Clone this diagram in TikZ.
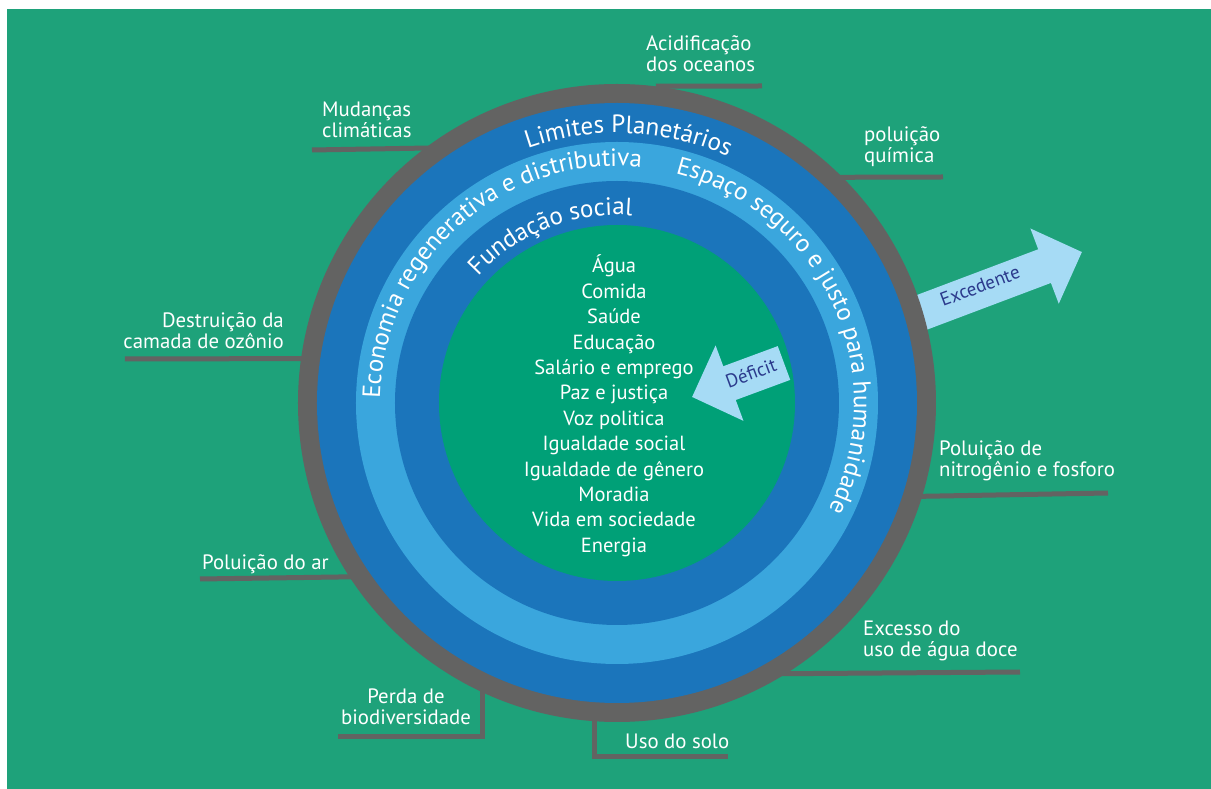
\documentclass[tikz,border=0pt]{standalone}
\usepackage{fontspec}
\setmainfont{PT Sans}
\usetikzlibrary{arrows.meta,decorations.text}

\definecolor{bggreen}{HTML}{1EA27A}
\definecolor{innergreen}{HTML}{00A077}
\definecolor{ringgray}{HTML}{636362}
\definecolor{darkblue}{HTML}{1B75BB}
\definecolor{lightblue}{HTML}{3AA6DD}
\definecolor{arrowblue}{HTML}{A6DBF5}
\definecolor{arrownavy}{HTML}{2B3A8C}

\newcommand\ringfont{\fontsize{25}{30}\selectfont\color{white}}

\begin{document}
\begin{tikzpicture}
		[x=1pt,y=1pt,line cap=butt,
		%Styles
		leader line/.style={line width=5pt,draw=ringgray,shorten <=-8pt},
		label text/.style={text=white,font=\fontsize{20.8}{21.5}\selectfont,inner sep=0pt},
		list text/.style={text=white,font=\fontsize{20.5}{25.4}\selectfont,inner sep=0pt,align=center},
		flow arrow/.style={line width=36pt,draw=arrowblue,-{Triangle[length=40pt,width=78pt]}},
		arrow text/.style={text=arrownavy,font=\fontsize{19}{20}\selectfont,inner sep=0pt},
		ring text/.style={decorate,decoration={text along path,text align=center,text={|\ringfont|#1}}}
		]
		
		%The graphic
		\useasboundingbox (-617,-386) rectangle (594,403);
		\fill[bggreen] (-610,-386) rectangle (594,394);
		
		%surplus arrow goes under the rings
		\coordinate (exc tail) at (282,82);
		\coordinate (exc tip) at (465,151);
		\draw[flow arrow] (exc tail) -- (exc tip);
		
		%outer boundary
		\node[circle,fill=ringgray,minimum size=638pt,inner sep=0pt] (boundary) at (0,0) {};
		
		%leader line ends
		\coordinate (acid end) at (145,317);
		\coordinate (chem end) at (326,226);
		\coordinate (clim end) at (-305,253);
		\coordinate (ozone end) at (-492,44);
		\coordinate (air end) at (-417,-176);
		\coordinate (bio end) at (-279,-334);
		\coordinate (soil end) at (111,-354);
		\coordinate (water end) at (403,-269);
		\coordinate (nitro end) at (491,-90);
		
		\draw[leader line,shorten <=0pt] (boundary.83.7) -- (acid end);
		\draw[leader line] (boundary.45.1) -- (chem end);
		\draw[leader line] (boundary.127.5) -- (clim end);
		\draw[leader line] (boundary.172.1) -- (ozone end);
		\draw[leader line] (boundary.213.5) -- (air end);
		\draw[leader line] (boundary.245.6) |- (bio end);
		\draw[leader line] (boundary.266.05) |- (soil end);
		\draw[leader line] (boundary.302.5) -- (water end);
		\draw[leader line] (boundary.343.6) -- (nitro end);
		
		%rings
		\fill[darkblue] (0,0) circle (300);
		\fill[lightblue] (0,0) circle (261);
		\fill[darkblue] (0,0) circle (222);
		\fill[innergreen] (0,0) circle (178);
		
		%ring titles
		\path[ring text={Limites Planetários}] (150:270) arc[start angle=150,end angle=25,radius=270];
		\path[ring text={Economia regenerativa e distributiva}] (221.5:237) arc[start angle=221.5,end angle=41.5,radius=237];
		\path[ring text={Espaço seguro e justo para humanidade}] (100:237) arc[start angle=100,end angle=-51,radius=237];
		\path[ring text={Fundação social}] (160:188) arc[start angle=160,end angle=63,radius=188];
		
		%deficit arrow
		\coordinate (def tail) at (167,40);
		\coordinate (def tip) at (75,6);
		\draw[flow arrow] (def tail) -- (def tip);
		\node[arrow text,rotate=20.3] (deficit) at (134,30) {Déficit};
		\node[arrow text,rotate=20.6] (surplus) at (363,117) {Excedente};
		
		%social foundation (base = last line)
		\node[list text,anchor=base] (needs) at (-3,-149.4)
			{Água\\Comida\\Saúde\\Educação\\Salário e emprego\\Paz e justiça\\Voz politica\\Igualdade social\\Igualdade de gênero\\Moradia\\Vida em sociedade\\Energia};
		
		%planetary boundaries
		\node[label text,align=left,anchor=base west] (acid) at (29,331) {Acidificação\\dos oceanos};
		\node[label text,align=left,anchor=base west] (chem) at (247,240) {poluição\\química};
		\node[label text,align=left,anchor=base west] (clim) at (-295,265) {Mudanças\\climáticas};
		\node[label text,align=right,anchor=base east] (ozone) at (-333,54) {Destruição da\\camada de ozônio};
		\node[label text,anchor=base west] (air) at (-415,-167) {Poluição do ar};
		\node[label text,align=center,anchor=base] (bio) at (-211,-322) {Perda de\\biodiversidade};
		\node[label text,anchor=base west] (soil) at (8,-346) {Uso do solo};
		\node[label text,align=left,anchor=base west] (water) at (246,-254) {Excesso do\\uso de água doce};
		\node[label text,align=left,anchor=base west] (nitro) at (322,-74) {Poluição de\\nitrogênio e fosforo};
	\end{tikzpicture}
\end{document}
